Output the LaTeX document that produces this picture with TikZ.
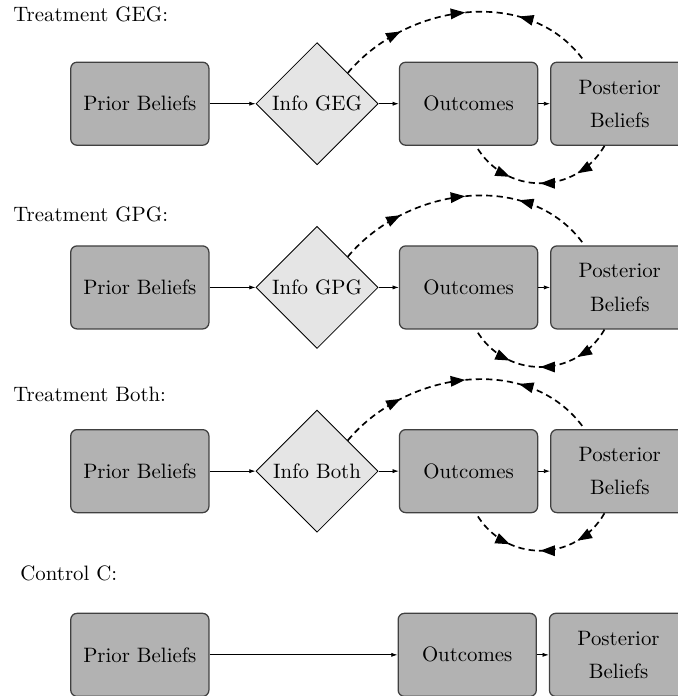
\documentclass[tikz,border=0pt]{standalone}
\usetikzlibrary{positioning,shapes.geometric,arrows.meta,decorations.markings}

\begin{document}
\begin{tikzpicture}[
    box/.style={rectangle, rounded corners=3pt, draw=black!75, line width=0.6pt, fill=black!30,
        minimum width=2.33cm, minimum height=1.4cm, align=center},
    infobox/.style={diamond, aspect=1, draw, fill=black!10, minimum size=2.06cm, inner sep=0pt},
    heading/.style={anchor=base west, inner sep=0pt},
    flow/.style={-{Latex[length=3pt,width=2pt]}},
    feedback/.style={thick, dash pattern=on 3pt off 2pt, postaction={decorate},
        decoration={markings,
            mark=at position 0.25 with {\arrow{Triangle[length=7pt,width=5pt]}},
            mark=at position 0.5 with {\arrow{Triangle[length=7pt,width=5pt]}},
            mark=at position 0.7 with {\arrowreversed{Triangle[length=7pt,width=5pt]}}}},
]
\useasboundingbox (0,0) rectangle (11.417,-11.737);

\node[heading] (t1) at (0.219,-0.363) {Treatment GEG:};
\node[box] (prior1) at (2.358,-1.749) {Prior Beliefs};
\node[infobox, right=0.776cm of prior1] (info1) {Info GEG};
\node[box, right=0.342cm of info1] (out1) {Outcomes};
\node[box, right=0.2cm of out1] (post1) {Posterior\\[4pt]Beliefs};
\draw[flow] (prior1) -- (info1);
\draw[flow] (info1) -- (out1);
\draw[flow] (out1) -- (post1);
\draw[feedback] (info1.north east) to[out=50, in=125] (post1.130);
\draw[feedback] (post1.250) to[out=-120, in=-60, looseness=1.15] (out1.280);

\node[heading] (t2) at (0.219,-3.727) {Treatment GPG:};
\node[box] (prior2) at (2.358,-4.847) {Prior Beliefs};
\node[infobox, right=0.776cm of prior2] (info2) {Info GPG};
\node[box, right=0.342cm of info2] (out2) {Outcomes};
\node[box, right=0.2cm of out2] (post2) {Posterior\\[4pt]Beliefs};
\draw[flow] (prior2) -- (info2);
\draw[flow] (info2) -- (out2);
\draw[flow] (out2) -- (post2);
\draw[feedback] (info2.north east) to[out=50, in=125] (post2.130);
\draw[feedback] (post2.250) to[out=-120, in=-60, looseness=1.15] (out2.280);

\node[heading] (t3) at (0.219,-6.774) {Treatment Both:};
\node[box] (prior3) at (2.358,-7.945) {Prior Beliefs};
\node[infobox, right=0.776cm of prior3] (info3) {Info Both};
\node[box, right=0.342cm of info3] (out3) {Outcomes};
\node[box, right=0.2cm of out3] (post3) {Posterior\\[4pt]Beliefs};
\draw[flow] (prior3) -- (info3);
\draw[flow] (info3) -- (out3);
\draw[flow] (out3) -- (post3);
\draw[feedback] (info3.north east) to[out=50, in=125] (post3.130);
\draw[feedback] (post3.250) to[out=-120, in=-60, looseness=1.15] (out3.280);

\node[heading] (t4) at (0.337,-9.781) {Control C:};
\node[box] (prior4) at (2.358,-11.043) {Prior Beliefs};
\node[box, right=3.17cm of prior4] (out4) {Outcomes};
\node[box, right=0.2cm of out4] (post4) {Posterior\\[4pt]Beliefs};
\draw[flow] (prior4) -- (out4);
\draw[flow] (out4) -- (post4);
\end{tikzpicture}
\end{document}
